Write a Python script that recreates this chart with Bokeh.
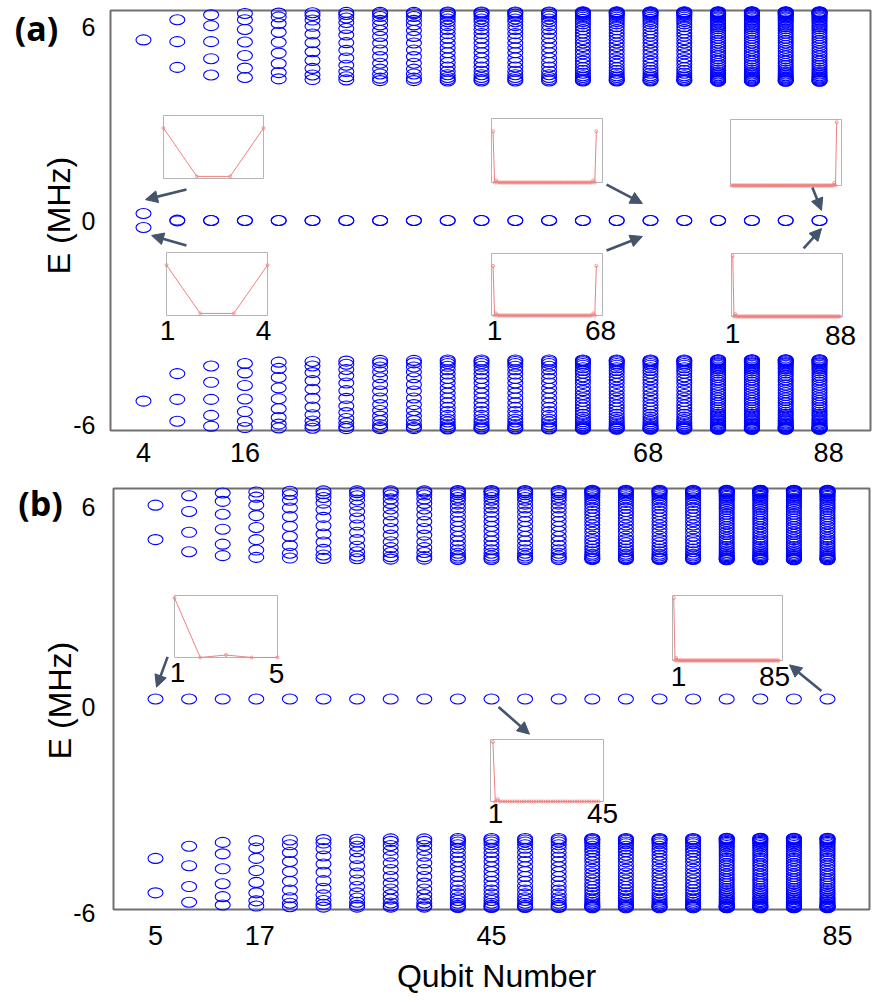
import math
from bokeh.plotting import figure
from bokeh.models import Range1d, FixedTicker, Label, Arrow, NormalHead, ColumnDataSource
from bokeh.layouts import column
from bokeh.embed import file_html
from bokeh.resources import INLINE

# ---------------------------------------------------------------- data
# panel (a): even chains, panel (b): odd chains (qubit number per column)
qubits_a = [4, 8, 12, 16, 20, 24, 28, 32, 36, 40, 44, 48, 52, 56, 60, 68, 72, 76, 80, 84, 88]
qubits_b = [5, 9, 13, 17, 21, 25, 29, 33, 37, 41, 45, 49, 53, 57, 61, 65, 69, 73, 77, 81, 85]

# upper-band energies (MHz) read per column; the lower band mirrors them (-E)
band_a_4 = [5.19]
band_a_8 = [5.77, 5.14, 4.40]
band_a_12 = [5.91, 5.60, 5.14, 4.65, 4.18]
band_a_16 = [5.95, 5.77, 5.49, 5.13, 4.74, 4.38, 4.11]
band_a_20 = [5.96, 5.85, 5.66, 5.41, 5.12, 4.81, 4.51, 4.25, 4.07]
band_a_24 = [5.97, 5.89, 5.76, 5.58, 5.36, 5.11, 4.85, 4.60, 4.37, 4.18, 4.05]
band_a_28 = [5.98, 5.92, 5.82, 5.69, 5.52, 5.33, 5.11, 4.89, 4.67, 4.46, 4.28, 4.13, 4.04]

band_b_5 = [5.57, 4.58]
band_b_9 = [5.84, 5.39, 4.79, 4.23]
band_b_13 = [5.92, 5.68, 5.31, 4.88, 4.45, 4.12]
band_b_17 = [5.95, 5.80, 5.57, 5.27, 4.93, 4.58, 4.28, 4.07]
band_b_21 = [5.97, 5.87, 5.71, 5.49, 5.24, 4.96, 4.67, 4.41, 4.19, 4.05]
band_b_25 = [5.98, 5.90, 5.79, 5.63, 5.44, 5.22, 4.98, 4.74, 4.51, 4.30, 4.14, 4.04]
band_b_29 = [5.98, 5.93, 5.84, 5.72, 5.57, 5.39, 5.20, 5.00, 4.79, 4.58, 4.39, 4.23, 4.11, 4.03]

# dense columns (individual levels unresolved: estimated tube of levels)
tube_15 = [5.98, 5.94, 5.86, 5.75, 5.62, 5.46, 5.29, 5.10, 4.90, 4.71, 4.52, 4.35, 4.21, 4.09, 4.02]
tube_21 = [5.99, 5.97, 5.93, 5.87, 5.79, 5.71, 5.60, 5.49, 5.37, 5.24, 5.10, 4.96, 4.82, 4.67,
           4.54, 4.41, 4.29, 4.19, 4.11, 4.05, 4.01]
tube_29 = [6.00, 5.98, 5.96, 5.93, 5.89, 5.84, 5.78, 5.72, 5.65, 5.57, 5.48, 5.39, 5.30, 5.20,
           5.10, 5.00, 4.89, 4.79, 4.68, 4.58, 4.49, 4.39, 4.31, 4.23, 4.16, 4.11, 4.06, 4.03, 4.01]
tube_41 = [6.00, 5.99, 5.98, 5.96, 5.94, 5.92, 5.89, 5.85, 5.82, 5.77, 5.73, 5.68, 5.62, 5.57,
           5.51, 5.45, 5.38, 5.31, 5.24, 5.17, 5.10, 5.03, 4.95, 4.88, 4.80, 4.73, 4.65, 4.58,
           4.51, 4.45, 4.38, 4.32, 4.26, 4.21, 4.16, 4.12, 4.09, 4.06, 4.03, 4.01, 4.00]

bands_a = [band_a_4, band_a_8, band_a_12, band_a_16, band_a_20, band_a_24, band_a_28,
           tube_15, tube_15, tube_21, tube_21, tube_21, tube_21,
           tube_29, tube_29, tube_29, tube_29, tube_41, tube_41, tube_41, tube_41]
bands_b = [band_b_5, band_b_9, band_b_13, band_b_17, band_b_21, band_b_25, band_b_29,
           tube_15, tube_15, tube_21, tube_21, tube_21, tube_21,
           tube_29, tube_29, tube_29, tube_29, tube_41, tube_41, tube_41, tube_41]

# edge (zero) modes: (a) a +/- pair per column, (b) a single level per column
zero_split_a = [0.20, 0.01, 0, 0, 0, 0, 0, 0, 0, 0, 0, 0, 0, 0, 0, 0, 0, 0, 0, 0, 0]
zero_b = [0, 0, 0, 0, 0, 0, 0, 0, 0, 0, 0, 0, 0, 0, 0, 0, 0, 0, 0, 0, 0]

tick_labels_a = ["4", "16", "68", "88"]
tick_labels_b = ["5", "17", "45", "85"]
ytick_labels = ["6", "0", "-6"]

# edge-mode probability distributions (insets)
psi_a_4 = [0.48, 0.02, 0.02, 0.48]
psi_a_68 = [
    0.48, 0, 0.02, 0, 0.001,
    0, 0, 0, 0, 0, 0, 0, 0, 0, 0,
    0, 0, 0, 0, 0, 0, 0, 0, 0, 0,
    0, 0, 0, 0, 0, 0, 0, 0, 0, 0,
    0, 0, 0, 0, 0, 0, 0, 0, 0, 0,
    0, 0, 0, 0, 0, 0, 0, 0, 0, 0,
    0, 0, 0, 0, 0, 0, 0, 0,
    0.001, 0, 0.02, 0, 0.48,
]
psi_a_88_right = [
    0, 0, 0, 0, 0, 0, 0, 0, 0, 0,
    0, 0, 0, 0, 0, 0, 0, 0, 0, 0,
    0, 0, 0, 0, 0, 0, 0, 0, 0, 0,
    0, 0, 0, 0, 0, 0, 0, 0, 0, 0,
    0, 0, 0, 0, 0, 0, 0, 0, 0, 0,
    0, 0, 0, 0, 0, 0, 0, 0, 0, 0,
    0, 0, 0, 0, 0, 0, 0, 0, 0, 0,
    0, 0, 0, 0, 0, 0, 0, 0, 0, 0,
    0, 0, 0,
    0.0016, 0, 0.04, 0, 0.96,
]
psi_a_88_left = [
    0.96, 0, 0.04, 0, 0.0016,
    0, 0, 0, 0, 0, 0, 0, 0, 0, 0,
    0, 0, 0, 0, 0, 0, 0, 0, 0, 0,
    0, 0, 0, 0, 0, 0, 0, 0, 0, 0,
    0, 0, 0, 0, 0, 0, 0, 0, 0, 0,
    0, 0, 0, 0, 0, 0, 0, 0, 0, 0,
    0, 0, 0, 0, 0, 0, 0, 0, 0, 0,
    0, 0, 0, 0, 0, 0, 0, 0, 0, 0,
    0, 0, 0, 0, 0, 0, 0, 0, 0, 0,
    0, 0, 0,
]
psi_b_5 = [0.96, 0, 0.04, 0, 0.0016]
psi_b_45 = [
    0.96, 0, 0.04, 0, 0.0016,
    0, 0, 0, 0, 0, 0, 0, 0, 0, 0,
    0, 0, 0, 0, 0, 0, 0, 0, 0, 0,
    0, 0, 0, 0, 0, 0, 0, 0, 0, 0,
    0, 0, 0, 0, 0, 0, 0, 0, 0, 0,
]
psi_b_85 = [
    0.96, 0, 0.04, 0, 0.0016,
    0, 0, 0, 0, 0, 0, 0, 0, 0, 0,
    0, 0, 0, 0, 0, 0, 0, 0, 0, 0,
    0, 0, 0, 0, 0, 0, 0, 0, 0, 0,
    0, 0, 0, 0, 0, 0, 0, 0, 0, 0,
    0, 0, 0, 0, 0, 0, 0, 0, 0, 0,
    0, 0, 0, 0, 0, 0, 0, 0, 0, 0,
    0, 0, 0, 0, 0, 0, 0, 0, 0, 0,
    0, 0, 0, 0, 0, 0, 0, 0, 0, 0,
]
assert len(psi_a_68) == 68 and len(psi_a_88_left) == 88 and len(psi_a_88_right) == 88
assert len(psi_b_45) == 45 and len(psi_b_85) == 85

# ---------------------------------------------------------------- layout
PAGE_W = 886
# each panel's canvas (page pixels) and the visible axes box inside it
CANVAS_A = dict(l=0, r=PAGE_W, t=0, b=478)
CANVAS_B = dict(l=0, r=PAGE_W, t=478, b=1002)
BOX_A = dict(l=110, r=870, t=10, b=430)
BOX_B = dict(l=113, r=869, t=488, b=909)
# pixel position of column 0, column pitch, pixel row of E = 0, pixels per MHz
MAP_A = dict(x0=143.0, dx=33.8, y0=220.0, dy=34.8)
MAP_B = dict(x0=155.0, dx=33.6, y0=698.5, dy=34.8)

BLUE = "#0000ff"
ARROW = "#44546a"
PINK = "#f08080"
BOXGREY = "#b4b4b4"
FRAMEGREY = "#707070"
FONT = "Liberation Sans"


def px2x(px, m):
    return (px - m["x0"]) / m["dx"]


def py2y(py, m):
    return (m["y0"] - py) / m["dy"]


def make_fig(canvas, box, m):
    xr = Range1d(px2x(canvas["l"], m), px2x(canvas["r"], m))
    yr = Range1d(py2y(canvas["b"], m), py2y(canvas["t"], m))
    p = figure(width=canvas["r"] - canvas["l"], height=canvas["b"] - canvas["t"],
               x_range=xr, y_range=yr, output_backend="svg", toolbar_location=None,
               title=None, min_border=0, min_border_left=0, min_border_right=0,
               min_border_top=0, min_border_bottom=0)
    p.grid.visible = False
    p.outline_line_color = None
    p.background_fill_color = "white"
    p.border_fill_color = "white"
    # axes drawn along the visible box
    p.xaxis.fixed_location = py2y(box["b"], m)
    p.yaxis.fixed_location = px2x(box["l"], m)
    p.axis.axis_line_color = None
    p.axis.major_tick_line_color = None
    p.axis.minor_tick_line_color = None
    p.axis.major_tick_out = 0
    p.axis.major_tick_in = 0
    p.axis.major_label_text_font = FONT
    p.axis.major_label_text_color = "black"
    p.xaxis.major_label_text_font_size = "27px"
    p.yaxis.major_label_text_font_size = "25px"
    # visible axes box
    p.quad(left=[px2x(box["l"], m)], right=[px2x(box["r"], m)],
           bottom=[py2y(box["b"], m)], top=[py2y(box["t"], m)],
           fill_color=None, line_color=FRAMEGREY, line_width=2)
    return p


def add_levels(p, bands, zeros, paired):
    xs, ys = [], []
    for i, band in enumerate(bands):
        for e in band:
            xs += [i, i]
            ys += [e, -e]
        if paired:
            xs += [i, i]
            ys += [zeros[i], -zeros[i]]
        else:
            xs.append(i)
            ys.append(zeros[i])
    src = ColumnDataSource(dict(x=xs, y=ys))
    p.ellipse(x="x", y="y", width=15, height=10, width_units="screen", height_units="screen",
              source=src, fill_color=None, line_color=BLUE, line_width=1.1)


def add_inset(p, name, canvas, box, xlim, ylim, vals, exr, eyr):
    l, r, t, b = box
    sx = (xlim[1] - xlim[0]) / (r - l)
    sy = (ylim[1] - ylim[0]) / (b - t)
    exr[name] = Range1d(xlim[0] - (l - canvas["l"]) * sx, xlim[1] + (canvas["r"] - r) * sx)
    eyr[name] = Range1d(ylim[0] - (canvas["b"] - b) * sy, ylim[1] + (t - canvas["t"]) * sy)
    sites = list(range(1, len(vals) + 1))
    kw = dict(x_range_name=name, y_range_name=name)
    p.quad(left=[xlim[0]], right=[xlim[1]], bottom=[ylim[0]], top=[ylim[1]],
           fill_color="white", line_color=BOXGREY, line_width=1, **kw)
    p.line(sites, vals, line_color=PINK, line_width=1, **kw)
    p.scatter(sites, vals, marker="circle", size=3, fill_color=None,
              line_color=PINK, line_width=0.8, **kw)


def add_text(p, m, px, py, text, size, font=FONT, bold=False, angle=0.0, baseline="alphabetic"):
    p.add_layout(Label(x=px2x(px, m), y=py2y(py, m), text=text, text_font=font,
                       text_font_size=f"{size}px",
                       text_font_style="bold" if bold else "normal", text_color="black",
                       text_align="center", text_baseline=baseline, angle=angle))


def add_arrows(p, arrows):
    for (x0, y0), (x1, y1) in arrows:
        p.add_layout(Arrow(end=NormalHead(size=12, fill_color=ARROW, line_color=ARROW, line_width=1),
                           x_start=x0, y_start=y0, x_end=x1, y_end=y1,
                           line_color=ARROW, line_width=2.6))


# ---------------------------------------------------------------- panel (a)
pa = make_fig(CANVAS_A, BOX_A, MAP_A)
add_levels(pa, bands_a, zero_split_a, paired=True)

cols_a = [qubits_a.index(int(s)) for s in tick_labels_a]
nudge_a = [0.0, 0.0, -0.07, 0.27]
xt_a = [c + n for c, n in zip(cols_a, nudge_a)]
pa.xaxis.ticker = FixedTicker(ticks=xt_a)
pa.xaxis.major_label_overrides = {t: s for t, s in zip(xt_a, tick_labels_a)}
pa.xaxis.major_label_standoff = 12
yt_a = [5.55, 0.0, -5.89]
pa.yaxis.ticker = FixedTicker(ticks=yt_a)
pa.yaxis.major_label_overrides = {t: s for t, s in zip(yt_a, ytick_labels)}
pa.yaxis.major_label_standoff = 15

exr, eyr = {}, {}
add_inset(pa, "a1", CANVAS_A, (163, 263, 115, 178), (1, 4), (0, 0.6), psi_a_4, exr, eyr)
add_inset(pa, "a2", CANVAS_A, (166, 267, 252, 315), (1, 4), (0, 0.6), psi_a_4, exr, eyr)
add_inset(pa, "a3", CANVAS_A, (491, 602, 118, 182), (0, 72), (0, 0.6), psi_a_68, exr, eyr)
add_inset(pa, "a4", CANVAS_A, (491, 602, 253, 315), (0, 72), (0, 0.6), psi_a_68, exr, eyr)
add_inset(pa, "a5", CANVAS_A, (730, 841, 119, 185), (0, 92), (0, 1.0), psi_a_88_right, exr, eyr)
add_inset(pa, "a6", CANVAS_A, (731, 842, 253, 316), (0, 90), (0, 1.0), psi_a_88_left, exr, eyr)
pa.extra_x_ranges = exr
pa.extra_y_ranges = eyr

add_arrows(pa, [((1.27, 0.89), (0.06, 0.60)), ((1.27, -0.72), (0.24, -0.43)),
                ((13.70, 1.03), (14.76, 0.49)), ((13.70, -0.86), (14.76, -0.46)),
                ((19.79, 0.95), (20.06, 0.29)), ((19.53, -0.80), (20.06, -0.23))])

for px, py, s in [(167, 330, "1"), (263, 330, "4"), (494, 330, "1"), (600, 330, "68"),
                  (732, 333, "1"), (840, 335, "88")]:
    add_text(pa, MAP_A, px, py, s, 28)
add_text(pa, MAP_A, 36, 27, "(a)", 34, font="Open Sans", bold=True, baseline="middle")
add_text(pa, MAP_A, 58, 215, "E (MHz)", 32, angle=math.pi / 2)

# ---------------------------------------------------------------- panel (b)
pb = make_fig(CANVAS_B, BOX_B, MAP_B)
add_levels(pb, bands_b, zero_b, paired=False)

cols_b = [qubits_b.index(int(s)) for s in tick_labels_b]
nudge_b = [0.0, 0.1, 0.0, 0.3]
xt_b = [c + n for c, n in zip(cols_b, nudge_b)]
pb.xaxis.ticker = FixedTicker(ticks=xt_b)
pb.xaxis.major_label_overrides = {t: s for t, s in zip(xt_b, tick_labels_b)}
pb.xaxis.major_label_standoff = 16
yt_b = [5.53, -0.22, -6.14]
pb.yaxis.ticker = FixedTicker(ticks=yt_b)
pb.yaxis.major_label_overrides = {t: s for t, s in zip(yt_b, ytick_labels)}
pb.yaxis.major_label_standoff = 18

exr, eyr = {}, {}
add_inset(pb, "b1", CANVAS_B, (174, 277, 595, 657), (1, 5), (0, 1.0), psi_b_5, exr, eyr)
add_inset(pb, "b2", CANVAS_B, (672, 782, 595, 660), (0, 88), (0, 1.0), psi_b_85, exr, eyr)
add_inset(pb, "b3", CANVAS_B, (490, 603, 739, 801), (0, 47), (0, 1.0), psi_b_45, exr, eyr)
pb.extra_x_ranges = exr
pb.extra_y_ranges = eyr

add_arrows(pb, [((0.36, 1.21), (0.03, 0.34)), ((10.21, -0.23), (11.13, -1.01)),
                ((19.82, 0.23), (18.87, 0.98))])

for px, py, s in [(177, 672, "1"), (276, 673, "5"), (678, 676, "1"), (774, 676, "85"),
                  (495, 813, "1"), (602, 813, "45")]:
    add_text(pb, MAP_B, px, py, s, 28)
add_text(pb, MAP_B, 40, 502, "(b)", 34, font="Open Sans", bold=True, baseline="middle")
add_text(pb, MAP_B, 59, 700, "E (MHz)", 32, angle=math.pi / 2)
add_text(pb, MAP_B, 496, 975, "Qubit Number", 32)

layout = column(pa, pb)
open("out.html", "w").write(file_html(layout, INLINE))
